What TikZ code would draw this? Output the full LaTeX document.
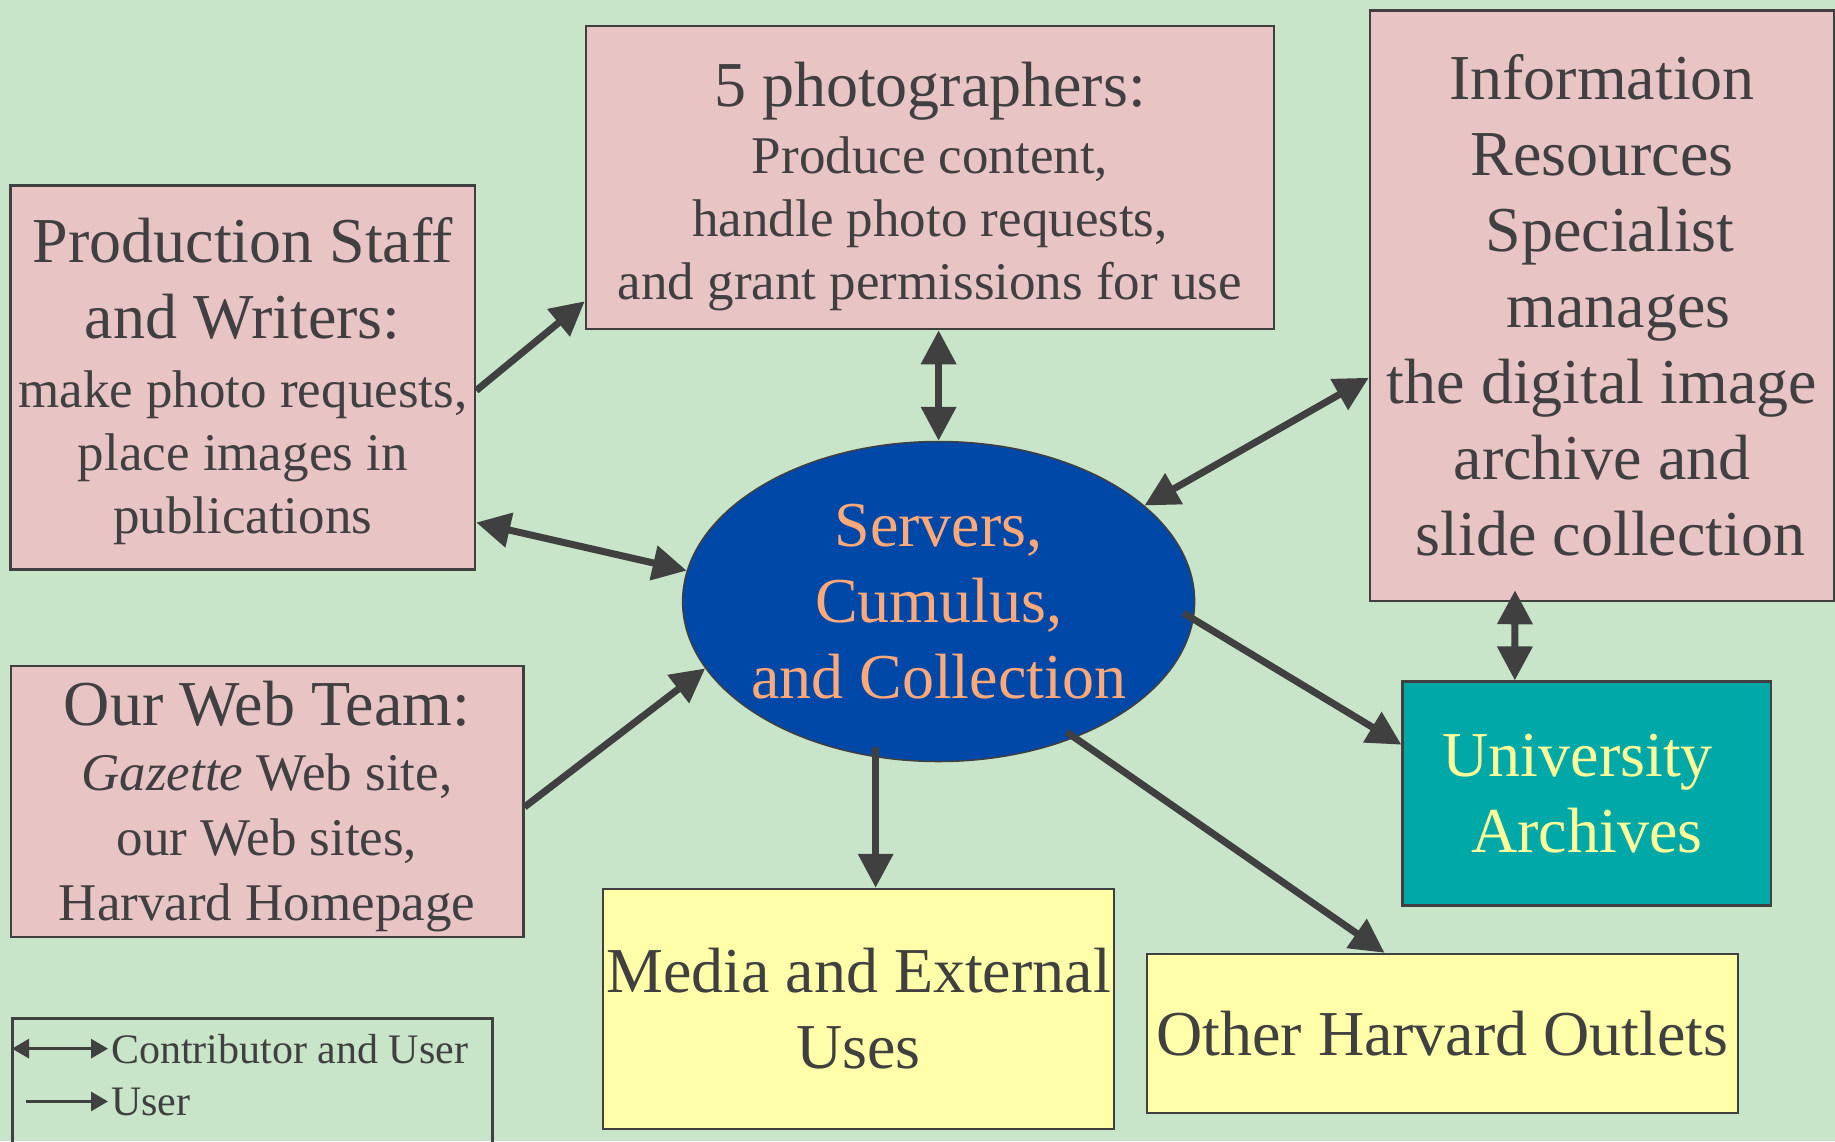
\documentclass[tikz,border=0pt]{standalone}
\usepackage{fontspec}
\setmainfont{Liberation Serif}
\usepackage{xcolor}
\usepackage{tikz}
\usetikzlibrary{shapes.geometric,positioning,arrows.meta}

\definecolor{bggreen}{RGB}{200,228,201}
\definecolor{pinkbox}{RGB}{232,196,196}
\definecolor{yellowbox}{RGB}{255,255,170}
\definecolor{tealbox}{RGB}{0,168,168}
\definecolor{hubblue}{RGB}{0,72,168}
\definecolor{hubtext}{RGB}{255,168,120}
\definecolor{archtext}{RGB}{255,255,153}
\definecolor{linegray}{RGB}{64,64,64}

\setlength\parindent{0pt}
\newcommand\boxbig{\fontsize{64}{76}\selectfont}
\newcommand\boxsmall{\fontsize{53}{63}\selectfont}

\begin{document}
\begin{tikzpicture}
        [ x=1pt, y=-1pt,
          every node/.style = {text=linegray, inner sep=0pt, align=flush center, font=\boxbig},
          box node/.style = {draw=linegray, line width=2.5pt, rectangle},
          pink node/.style = {box node, fill=pinkbox},
          yellow node/.style = {box node, fill=yellowbox},
          archive node/.style = {box node, fill=tealbox, text=archtext},
          hub node/.style = {ellipse, draw=linegray, line width=1.5pt, fill=hubblue,
                             text=hubtext, minimum width=512pt, minimum height=320pt,
                             inner xsep=-8pt},
          legend text/.style = {font=\fontsize{42}{50}\selectfont},
          link/.style = {draw=linegray, line width=7pt,
                         -{Triangle[length=34pt,width=34pt]}},
          both link/.style = {link, {Triangle[length=34pt,width=34pt]}-{Triangle[length=34pt,width=34pt]}},
          small link/.style = {draw=linegray, line width=3pt,
                               -{Triangle[length=17pt,width=19pt]}},
          small both/.style = {small link, {Triangle[length=17pt,width=19pt]}-{Triangle[length=17pt,width=19pt]}}]
        \path[use as bounding box, fill=bggreen] (0,0) rectangle (1835,1141);
        \clip (0,0) rectangle (1835,1141);

        % contributors
        \node[pink node, text width=464.5pt, minimum height=384pt] (prod) at (242.75,377.5)
            {\rule{0pt}{52pt}Production Staff\\and Writers:\par\vspace{6pt}
             \boxsmall make photo requests,\\place images in\\publications\par};
        \node[pink node, text width=688pt, minimum height=303pt] (ph) at (930,177.5)
            {\rule{0pt}{62pt}5 photographers:\par\vspace{4pt}
             \boxsmall Produce content,\\handle photo requests,\\and grant permissions for use\par};
        \node[pink node, text width=464pt, minimum height=590.5pt] (info) at (1602,305.75)
            {Information\\Resources\\\hspace*{16pt}Specialist\\\hspace*{33pt}manages\\
             the digital image\\archive and\\\hspace*{17pt}slide collection\par};
        \node[pink node, text width=512.5pt, minimum height=271pt] (web) at (267,801.5)
            {\rule{0pt}{54pt}Our Web Team:\par
             \fontsize{53}{65}\selectfont \textit{Gazette} Web site,\\our Web sites,\\Harvard Homepage\par};

        % the hub
        \node[hub node] (srv) at (938.6,601.5) {Servers,\\Cumulus,\\and Collection};

        % users
        \node[archive node, text width=368.3pt, minimum height=224pt] (ua) at (1586.8,793.7)
            {University\hspace*{18pt}\mbox{}\\Archives\par};
        \node[yellow node, text width=511pt, minimum height=240pt] (media) at (858.5,1009)
            {Media and External\\Uses\par};
        \node[yellow node, text width=591pt, minimum height=159pt] (other) at (1442.5,1033.5)
            {Other Harvard Outlets};

        % connectors
        \draw[link] ([yshift=-13pt]prod.east) -- ([yshift=29pt]ph.south west);
        \draw[both link] ([yshift=-145pt]prod.east) -- (srv.173);
        \draw[both link] (srv.north |- ph.south) -- (srv.north);
        \draw[link] ([yshift=-5.5pt]web.east) -- (srv.196);
        \draw[both link] (srv.25) -- ([yshift=-72pt]info.west);
        \draw[link, shorten <=-12pt] (srv.-4) -- ([yshift=49pt]ua.west);
        \draw[link, shorten <=-10pt] (srv.248) -- (srv.248 |- media.north);
        \draw[link, shorten <=-10pt] (srv.-45) -- ([xshift=-58pt]other.north);
        \draw[both link] ([xshift=-87pt,yshift=12pt]info.south) -- ([xshift=-72pt]ua.north);

        % legend
        \node[box node, line width=3pt, anchor=north west, minimum width=480.5pt,
              minimum height=200pt] (legend) at (10.5,1017) {};
        \node[legend text, anchor=base west] (cu) at (111,1063) {Contributor and User};
        \node[legend text, anchor=base west] (us) at (111,1115) {User};
        \coordinate (cu tail) at ([xshift=-99pt]cu.west);
        \coordinate (us tail) at ([xshift=-85pt]us.west);
        \draw[small both] (cu tail) -- ([xshift=-3pt]cu.west);
        \draw[small link] (us tail) -- ([xshift=-3pt]us.west);
    \end{tikzpicture}
\end{document}
